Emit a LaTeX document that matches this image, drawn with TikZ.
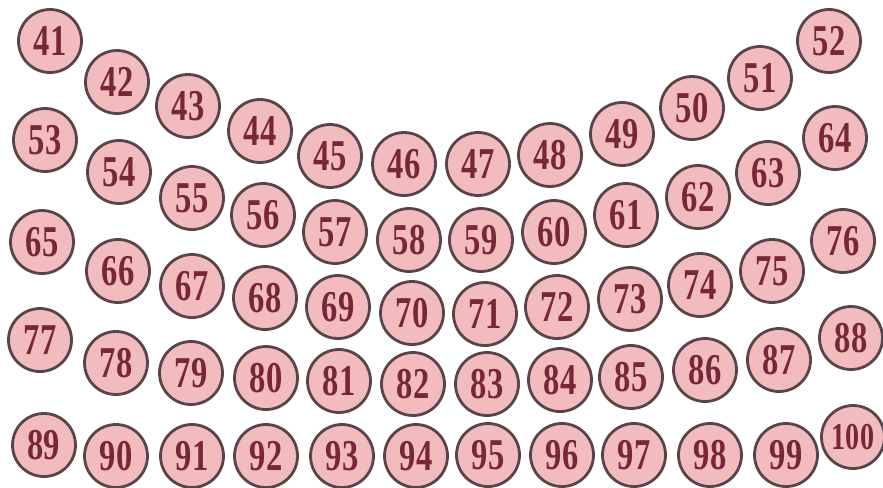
\documentclass[tikz,border=0pt]{standalone}
\usepackage{fontspec}
\newfontfamily\ballfont[FakeStretch=0.74]{Liberation Serif}
\usepackage{tikz}
\definecolor{ballfill}{RGB}{242,188,190}
\definecolor{balledge}{RGB}{88,68,74}
\definecolor{balltext}{RGB}{120,38,56}
\tikzset{
  ball/.style={circle, draw=balledge, line width=1.4pt, fill=ballfill,
    minimum size=31.5pt, inner sep=0pt, text=balltext,
    font=\ballfont\bfseries\fontsize{22}{22}\selectfont},
  ballwide/.style={ball, font=\ballfont\bfseries\fontsize{19}{19}\selectfont},
}

\begin{document}
\begin{tikzpicture}[x=0.5pt, y=-0.5pt]
  \useasboundingbox (0,0) rectangle (883,487);
  % numbered balls, positions in pixels of the sheet
  \foreach \n/\x/\y in {
    41/50/41, 42/117/82, 43/188/106, 44/260/131, 45/330/156, 46/404/164,
    47/478/164, 48/550/155, 49/622/134, 50/692/108, 51/760/78, 52/829/41,
    53/45/140, 54/119/172, 55/192/198, 56/263/215, 57/335/232, 58/409/240,
    59/481/240, 60/554/232, 61/626/215, 62/698/197, 63/768/173, 64/835/138,
    65/42/242, 66/118/271, 67/192/286, 68/265/298, 69/338/307, 70/412/313,
    71/485/314, 72/557/307, 73/630/299, 74/700/285, 75/772/271, 76/843/241,
    77/40/340, 78/116/363, 79/191/373, 80/266/378, 81/339/381, 82/413/384,
    83/487/384, 84/560/380, 85/631/377, 86/705/370, 87/779/360, 88/851/338,
    89/44/445, 90/116/456, 91/192/456, 92/266/456, 93/342/456, 94/416/456,
    95/488/455, 96/562/455, 97/634/455, 98/710/455, 99/786/455}
    \node[ball] (b\n) at (\x,\y) {\n};
  \node[ballwide] (b100) at (853,437) {100};
\end{tikzpicture}
\end{document}
